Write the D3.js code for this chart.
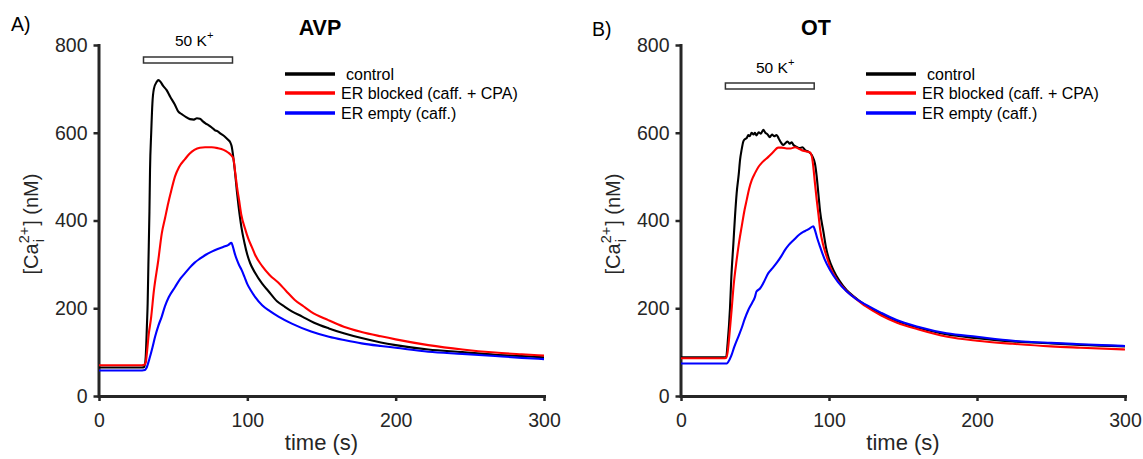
<!DOCTYPE html>
<html>
<head>
<meta charset="utf-8">
<script src="https://cdn.jsdelivr.net/npm/d3@7"></script>
<style>
  html, body { margin: 0; padding: 0; background: #ffffff; }
  svg { display: block; font-family: "Liberation Sans", Arial, sans-serif; }
</style>
</head>
<body>
<svg id="chart" width="1143" height="459"></svg>
<script>
// ---------------- data ----------------
const xTicks = [0, 100, 200, 300];
const yTicks = [0, 200, 400, 600, 800];
const seriesNames = ["control", "ER blocked (caff. + CPA)", "ER empty (caff.)"];
const seriesColors = ["#000000", "#ff0000", "#0000ff"];
const stimulus = [30, 90]; // 50 K+ application window (s)

// AVP panel, [time (s), [Ca2+]i (nM)]
const avpControl = [[0,65],[10,65],[20,65],[29,65],[30.5,66],[31.5,90],[32.3,160],[32.8,211],[33.3,300],[34,420],[34.4,515],[35.2,600],[36,667],[37,700],[38.9,716],[40,720],[41.5,716],[43,708],[45.6,697],[48,682],[51,665],[53.5,648],[56,642],[58.5,636],[61.3,631],[64,630],[66,633],[68,632],[70,626],[72,621],[74,617],[76,612],[78,606],[80,603],[82,598],[84.9,591],[87,584],[88.5,578],[89.5,568],[90.5,545],[91.7,510],[93,465],[94,435],[96,385],[98,350],[100,322],[102,302],[105,282],[110,256],[114,240],[120,216],[125,204],[130,193],[137,181],[145,167],[155,154],[165,143],[177,132],[190,122],[200,116],[222,106],[245,100],[267,94],[285,91],[300,88]];
const avpBlocked = [[0,70],[15,70],[29,70],[30.5,71],[31.5,76],[32.5,105],[33.5,140],[35,175],[37,240],[40,310],[42.3,370],[44.5,405],[46.7,440],[48.5,465],[51.2,500],[54,522],[58,540],[61,552],[64.3,561],[68,566],[71.5,567],[76,567],[80,565],[84,561],[87,555],[89,549],[90.5,542],[92,505],[93,478],[94.5,445],[96,412],[98.4,382],[100.7,358],[103,340],[105.2,322],[110,296],[115,276],[121,258],[126,240],[132,219],[138,204],[143,192],[154.6,173],[165,158],[177,146],[190,136],[200,129],[222,116],[245,106],[267,99],[285,95],[300,92]];
const avpEmpty = [[0,58],[15,58],[29,58],[31,59],[32,64],[34,85],[36,110],[37.8,135],[40,160],[42.3,181],[44.5,205],[47,225],[51.2,248],[55,268],[58,280],[61,292],[64.5,304],[68,313],[72,322],[76,329],[80,335],[84,340],[87,344],[89.3,349],[90.3,340],[91.5,325],[93,310],[94.5,298],[96.2,287],[98,272],[100,255],[102.5,240],[105.2,226],[110,207],[115,194],[121,181],[130,165],[143,147],[155,135],[166,127],[177,120],[190,114],[200,110],[222,101],[245,96],[267,91],[285,87],[300,84]];

// OT panel
const otControl = [[0,88],[15,88],[29,88],[30.5,88],[31.5,120],[33.1,200],[34,270],[35.4,348],[36.5,410],[37.6,462],[39,505],[39.9,538],[41,562],[42.1,580],[43,585],[44.4,588],[45.5,595],[46.5,592],[47.7,600],[49,596],[50,600],[51,594],[52.5,601],[54,598],[55.6,607],[57,600],[58.5,596],[60,590],[61.5,596],[63,592],[64.6,595],[66,587],[67.5,578],[69,572],[70.5,576],[72,580],[73.5,575],[74.8,578],[76,572],[78,568],[80.4,565],[82,567],[84,560],[86,557],[87.5,553],[89,545],[90.5,530],[91.7,500],[92.8,462],[94,420],[96.2,375],[98,338],[100,312],[103,287],[107,263],[112,241],[116,229],[125,206],[135,187],[146,171],[160,156],[180,140],[200,132],[224,124.5],[250,120],[270,116.5],[300,113]];
const otBlocked = [[0,86],[15,86],[29,86],[30.5,87],[31.5,100],[33,150],[34.2,196],[35.5,250],[37.6,310],[39,345],[41,386],[43,425],[44.4,447],[46,472],[47.8,492],[50,508],[52.3,522],[55,533],[59,545],[62,555],[65.7,566],[68,566],[71.4,564],[74,564],[77,567],[80,563],[82.6,559],[85,557],[87.2,555],[88.5,545],[89.4,522],[90.5,485],[91.7,447],[93,410],[94,380],[96,345],[98.4,318],[101,292],[105.2,266],[112,239],[118,222],[125,204],[135,184],[146,167],[160,152],[180,135],[200,126],[224,119],[250,113],[270,110],[300,106]];
const otEmpty = [[0,74],[15,74],[29,74],[31,74],[32,78],[34,92],[36,112],[38.7,135],[41,155],[43,175],[45.5,196],[48,212],[50,226],[51,238],[53.4,245],[56,260],[59,280],[62,292],[65,305],[68,320],[70.3,333],[73,345],[76,355],[80,368],[82.6,374],[85,378],[87,382],[89.4,387],[90.5,378],[92,360],[94,340],[97,312],[100.7,287],[106,260],[112,238],[118,222],[125.5,207],[135,190],[145.7,173],[160,158],[179.5,143],[200,135],[224.5,126],[250,121],[270,118],[300,114]];

// ---------------- layout ----------------
const panels = [
  { tag: "A)", tagX: 11, tagY: 31, title: "AVP", titleX: 320, x0: 99, x1: 544,
    barY: 57, kX: 175, kY: 46, legX: 285, series: [avpControl, avpBlocked, avpEmpty] },
  { tag: "B)", tagX: 592, tagY: 35.5, title: "OT", titleX: 816, x0: 681, x1: 1125,
    barY: 83, kX: 756, kY: 73, legX: 866, series: [otControl, otBlocked, otEmpty] }
];
const yTop = 45, yBot = 396;
const axisColor = "#262626";

const svg = d3.select("#chart");

function supText(g, x, y, main, sup, size) {
  const t = g.append("text").attr("x", x).attr("y", y)
    .attr("font-size", size).attr("fill", "#000");
  t.append("tspan").text(main);
  t.append("tspan").attr("font-size", size * 0.72).attr("dy", -size * 0.45).text(sup);
  return t;
}

panels.forEach(p => {
  const x = d3.scaleLinear().domain([0, 300]).range([p.x0, p.x1]);
  const y = d3.scaleLinear().domain([0, 800]).range([yBot, yTop]);
  const g = svg.append("g");

  // axes
  const ax = g.append("g").attr("transform", `translate(0,${yBot})`)
    .call(d3.axisBottom(x).tickValues(xTicks).tickFormat(d3.format("d")).tickSize(5).tickSizeOuter(0).tickPadding(12));
  const ay = g.append("g").attr("transform", `translate(${p.x0 - 0.5},0)`)
    .call(d3.axisLeft(y).tickValues(yTicks).tickFormat(d3.format("d")).tickSize(5).tickSizeOuter(0).tickPadding(6));
  [ax, ay].forEach(a => {
    a.select(".domain").attr("stroke", axisColor).attr("stroke-width", 3).attr("stroke-linecap", "square");
    a.selectAll(".tick line").attr("stroke", axisColor).attr("stroke-width", 2.5);
    a.selectAll(".tick text").attr("fill", axisColor).attr("font-size", 19.5)
      .attr("font-family", "Liberation Sans, Arial, sans-serif");
  });

  // lines (black, red, blue)
  const line = d3.line().x(d => x(d[0])).y(d => y(d[1])).curve(d3.curveMonotoneX);
  p.series.forEach((s, i) => {
    g.append("path").datum(s).attr("d", line).attr("fill", "none")
      .attr("stroke", seriesColors[i]).attr("stroke-width", 2.1).attr("stroke-linejoin", "round");
  });

  // stimulus bar
  g.append("rect").attr("x", x(stimulus[0])).attr("y", p.barY)
    .attr("width", x(stimulus[1]) - x(stimulus[0])).attr("height", 6)
    .attr("fill", "#ffffff").attr("stroke", "#333333").attr("stroke-width", 1.5);
  supText(g, p.kX, p.kY, "50 K", "+", 15.5);

  // panel tag and title
  g.append("text").attr("x", p.tagX).attr("y", p.tagY).attr("font-size", 19.5).attr("fill", "#000").text(p.tag);
  g.append("text").attr("x", p.titleX).attr("y", 35).attr("text-anchor", "middle")
    .attr("font-size", 21.5).attr("font-weight", "bold").attr("fill", "#000").text(p.title);

  // legend
  const rows = [74, 93, 113];
  seriesNames.forEach((n, i) => {
    g.append("line").attr("x1", p.legX).attr("x2", p.legX + 50).attr("y1", rows[i]).attr("y2", rows[i])
      .attr("stroke", seriesColors[i]).attr("stroke-width", 3.5);
    g.append("text").attr("x", p.legX + (i === 0 ? 61 : 56)).attr("y", rows[i] + 5.5)
      .attr("font-size", 16).attr("fill", "#000").text(n);
  });

  // x label
  g.append("text").attr("x", (p.x0 + p.x1) / 2).attr("y", 450).attr("text-anchor", "middle")
    .attr("font-size", 22).attr("fill", axisColor).text("time (s)");

  // y label with sup/sub
  const lg = g.append("g").attr("transform", `translate(${p.x0 - 61},224) rotate(-90)`);
  const fs = 20, ss = 14.5;
  const t1 = lg.append("text").attr("font-size", fs).attr("fill", axisColor).text("[Ca");
  const w1 = t1.node().getComputedTextLength();
  const t2 = lg.append("text").attr("x", w1).attr("y", -9).attr("font-size", ss).attr("fill", axisColor).text("2+");
  const w2 = t2.node().getComputedTextLength();
  lg.append("text").attr("x", w1 + 1).attr("y", 6).attr("font-size", ss).attr("fill", axisColor).text("i");
  const t4 = lg.append("text").attr("x", w1 + w2 + 1).attr("font-size", fs).attr("fill", axisColor).text("] (nM)");
  const total = w1 + w2 + 1 + t4.node().getComputedTextLength();
  lg.selectAll("text").attr("transform", `translate(${-total / 2},0)`);
});
</script>
</body>
</html>
